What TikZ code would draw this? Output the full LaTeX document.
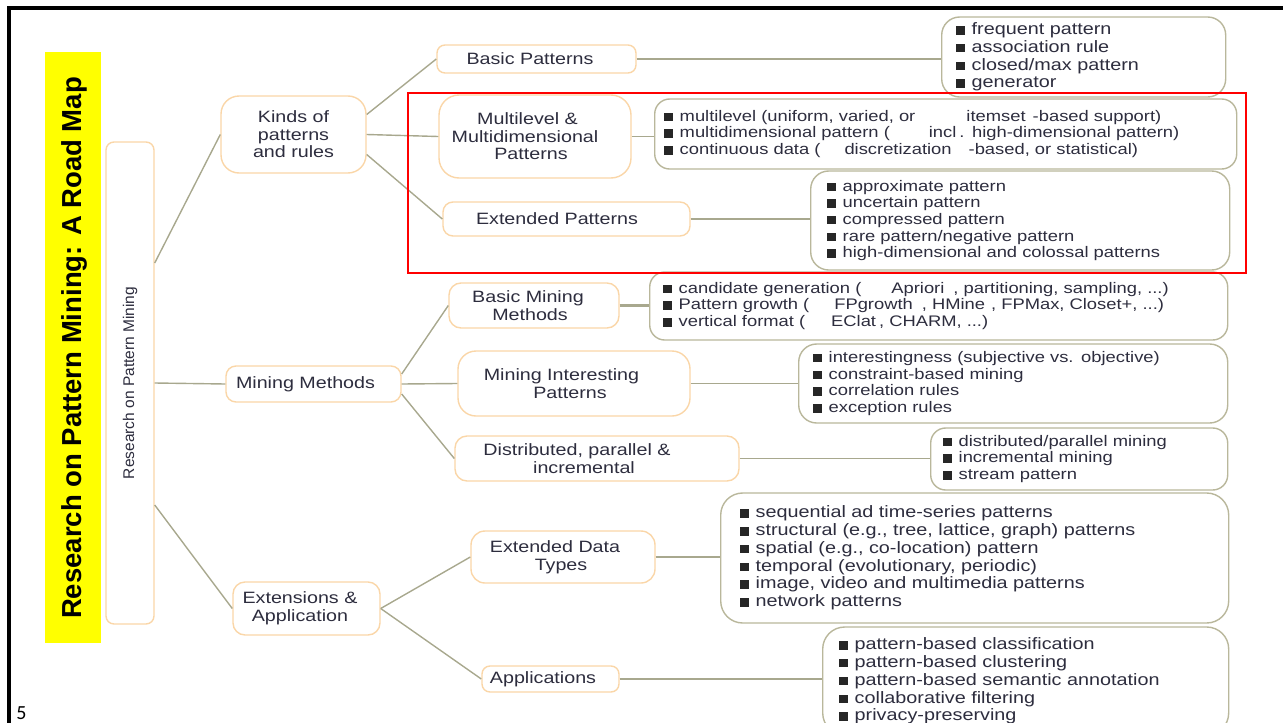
\documentclass[tikz,border=0pt]{standalone}
\usepackage{fontspec}
\setmainfont{Liberation Sans}
\newfontfamily\diagfont{Liberation Sans}[FakeStretch=1.2]
\newfontfamily\slidefont{Carlito}
\definecolor{peach}{RGB}{250,214,168}
\definecolor{olivebd}{RGB}{185,183,155}
\definecolor{linkc}{RGB}{168,168,142}
\definecolor{ink}{RGB}{45,45,62}
\definecolor{hilite}{RGB}{255,255,0}
% square list bullet
\newcommand\sq{\makebox[16pt][l]{\textcolor{black!85}{\rule{9pt}{8.5pt}}}}
% pull a centred line to the left by half of the given amount
\newcommand\sh[1]{\hspace*{-#1pt}}
\tikzset{
  lvl/.style={draw=peach, line width=1.4pt, rounded corners=#1, fill=white,
    align=center, text=ink, inner sep=0pt,
    font=\diagfont\fontsize{16.4}{17.6}\selectfont},
  lvl/.default=10pt,
  lst/.style={draw=olivebd, line width=1.4pt, rounded corners=18pt, fill=white,
    align=left, anchor=west, text=ink, inner ysep=0pt,
    font=\diagfont\fontsize{15.3}{16.7}\selectfont},
  bigtext/.style={font=\diagfont\fontsize{16.5}{17.8}\selectfont},
  link/.style={draw=linkc, line width=1.4pt},
}
\begin{document}
\begin{tikzpicture}[x=1pt,y=-1pt]
\useasboundingbox (0,0) rectangle (1283,723);
\clip (0,0) rectangle (1283,723);

% slide frame and title band
\draw[line width=3.5pt] (8.8,740) -- (8.8,8) -- (1300,8);
\fill[hilite] (45,52) rectangle (101,643);
\node[rotate=90, font=\bfseries\fontsize{27.5}{30}\selectfont] (title) at (74,348)
  {Research on Pattern Mining: A Road Map};
\node[font=\slidefont\fontsize{20}{22}\selectfont, anchor=base] (pnum) at (21.5,719.5) {5};

% root
\node[lvl=8pt, minimum width=48pt, minimum height=482pt,
  font=\normalfont\fontsize{15.5}{17}\selectfont] (root) at (130,383)
  {\rotatebox{90}{Research on Pattern Mining}};

% first level
\node[lvl=18pt, minimum width=145pt, minimum height=77pt] (kinds) at (293.5,134.5) {Kinds of\\patterns\\and rules};
\node[lvl=10pt, minimum width=175pt, minimum height=36pt] (methods) at (313.5,384) {\sh{16}Mining Methods};
\node[lvl=12pt, minimum width=147pt, minimum height=53pt] (ext) at (306.5,608.5) {\sh{13}Extensions \&\\\sh{13}Application};

% second level
\node[lvl=8pt, minimum width=199pt, minimum height=28pt] (basicp) at (536.5,59) {\sh{13}Basic Patterns};
\node[lvl=20pt, minimum width=192pt, minimum height=83pt] (multi) at (535,136.5)
  {\sh{15}Multilevel \&\\\sh{20}Multidimensional\\\sh{8}Patterns};
\node[lvl=10pt, minimum width=247pt, minimum height=34pt] (extp) at (566.5,219) {\sh{19}Extended Patterns};
\node[lvl=12pt, minimum width=170pt, minimum height=45pt] (basicm) at (534,305.5) {\sh{12}Basic Mining\\\sh{8}Methods};
\node[lvl=18pt, minimum width=232pt, minimum height=65pt] (interest) at (574,383.5) {\sh{25}Mining Interesting\\\sh{8}Patterns};
\node[lvl=12pt, minimum width=284pt, minimum height=45pt] (distr) at (597,458.5) {\sh{40}Distributed, parallel \&\\\sh{26}incremental};
\node[lvl=14pt, minimum width=184pt, minimum height=52pt] (extdata) at (563,557) {\sh{16}Extended Data\\\sh{4}Types};
\node[lvl=8pt, minimum width=137pt, minimum height=26pt] (apps) at (550.5,679) {\sh{15}Applications};

% leaf lists
\node[lst, bigtext, text width=256pt, inner xsep=14pt, minimum height=80pt] (basicpl) at (941,57)
  {\sq frequent pattern\\\sq association rule\\\sq closed/max pattern\\\sq generator};
\node[lst, rounded corners=15pt, text width=564pt, inner xsep=9pt, minimum height=70pt] (multil) at (654,134)
  {\sq multilevel (uniform, varied, or\hspace{46pt} itemset\hspace{2pt} -based support)\\
   \sq multidimensional pattern (\hspace{39pt}incl\hspace{3pt}. high-dimensional pattern)\\
   \sq continuous data (\hspace{24pt}discretization\hspace{17pt}-based, or statistical)};
\node[lst, text width=387pt, inner xsep=16pt, minimum height=99pt] (extpl) at (810,220.5)
  {\sq approximate pattern\\\sq uncertain pattern\\\sq compressed pattern\\\sq rare pattern/negative pattern\\\sq high-dimensional and colossal patterns};
\node[lst, rounded corners=15pt, text width=552pt, inner xsep=13pt, minimum height=68pt] (basicml) at (649,306)
  {\sq candidate generation (\hspace{30pt}Apriori\hspace{9pt}, partitioning, sampling, ...)\\
   \sq Pattern growth (\hspace{25pt}FPgrowth\hspace{9pt}, HMine\hspace{6pt}, FPMax, Closet+, ...)\\
   \sq vertical format (\hspace{26pt}EClat\hspace{3pt}, CHARM, ...)};
\node[lst, text width=401pt, inner xsep=14pt, minimum height=79pt] (interestl) at (798,383.5)
  {\sq interestingness (subjective vs. objective)\\\sq constraint-based mining\\\sq correlation rules\\\sq exception rules};
\node[lst, rounded corners=15pt, text width=273pt, inner xsep=12pt, minimum height=62pt] (distrl) at (930,459)
  {\sq distributed/parallel mining\\\sq incremental mining\\\sq stream pattern};
\node[lst, bigtext, rounded corners=22pt, text width=470pt, inner xsep=19pt, minimum height=130pt] (extdatal) at (720,558)
  {\sq sequential ad time-series patterns\\\sq structural (e.g., tree, lattice, graph) patterns\\\sq spatial (e.g., co-location) pattern\\\sq temporal (evolutionary, periodic)\\\sq image, video and multimedia patterns\\\sq network patterns};
\node[lst, bigtext, rounded corners=22pt, text width=374pt, inner xsep=16pt, minimum height=108pt] (appsl) at (822,681)
  {\sq pattern-based classification\\\sq pattern-based clustering\\\sq pattern-based semantic annotation\\\sq collaborative filtering\\\sq privacy-preserving};

% connectors
\draw[link] ([yshift=120pt]root.east) -- (kinds.west);
\draw[link] (root.east) -- (methods.west);
\draw[link] ([yshift=-122pt]root.east) -- (ext.west);
\draw[link] ([yshift=20pt]kinds.east) -- (basicp.west);
\draw[link] (kinds.east) -- (multi.west);
\draw[link] ([yshift=-20pt]kinds.east) -- (extp.west);
\draw[link] ([yshift=10pt]methods.east) -- (basicm.west);
\draw[link] (methods.east) -- (interest.west);
\draw[link] ([yshift=-10pt]methods.east) -- (distr.west);
\draw[link] (ext.east) -- (extdata.west);
\draw[link] (ext.east) -- (apps.west);
\draw[link] (basicp.east) -- (basicp.east -| basicpl.west);
\draw[link] (multi.east) -- (multi.east -| multil.west);
\draw[link] (extp.east) -- (extp.east -| extpl.west);
\draw[link, line width=2.6pt] (basicm.east) -- (basicm.east -| basicml.west);
\draw[link] (interest.east) -- (interest.east -| interestl.west);
\draw[link] (distr.east) -- (distr.east -| distrl.west);
\draw[link] (extdata.east) -- (extdata.east -| extdatal.west);
\draw[link] (apps.east) -- (apps.east -| appsl.west);

% highlighted region
\draw[red, line width=2pt] (408,93) rectangle (1246,273);
\end{tikzpicture}
\end{document}
